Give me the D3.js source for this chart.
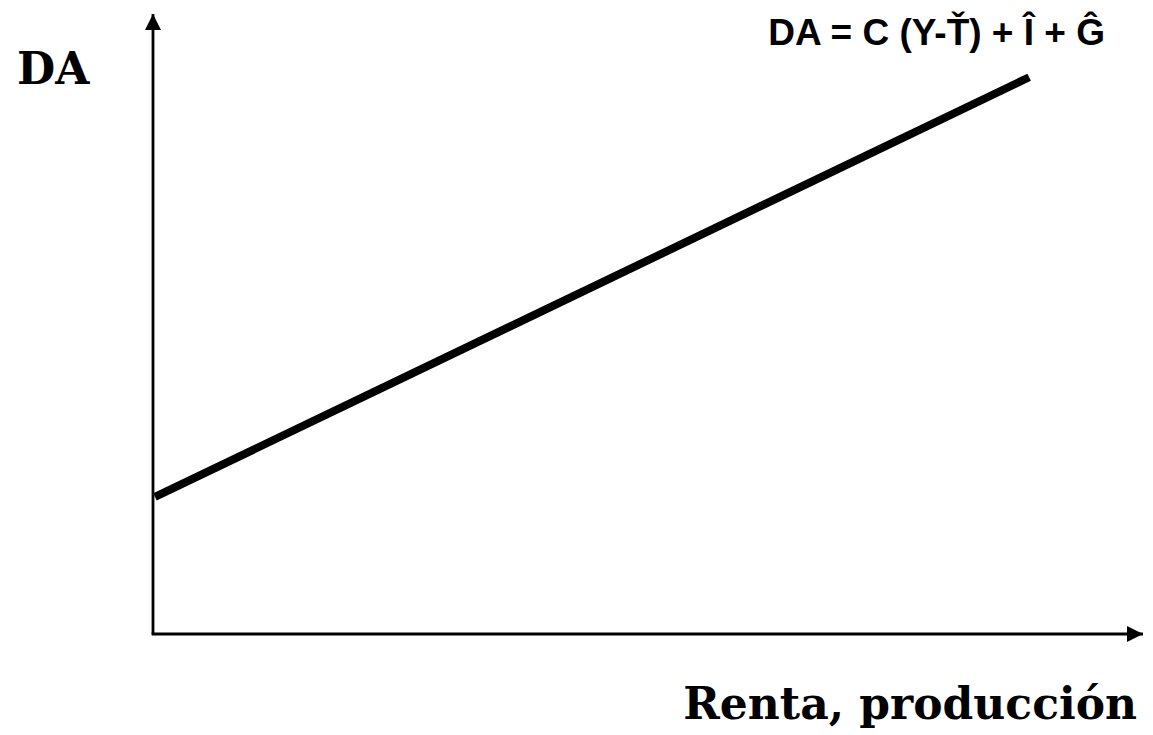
<!DOCTYPE html>
<html>
<head>
<meta charset="utf-8">
<script src="https://cdn.jsdelivr.net/npm/d3@7"></script>
<style>
  body { margin: 0; background: #fff; }
</style>
</head>
<body>
<script>
// Aggregate demand line (abstract units, axes run 0..10)
const lineX = [0.02, 8.85];
const lineY = [2.21, 8.98];
const equationLabel = 'DA = C (Y-Ť) + Î + Ĝ';
const yLabel = 'DA';
const xLabel = 'Renta, producción';

const width = 1153, height = 735;
const origin = { x: 153, y: 634 };

const svg = d3.select('body').append('svg')
    .attr('width', width)
    .attr('height', height);

const x = d3.scaleLinear().domain([0, 10]).range([origin.x, 1143]);
const y = d3.scaleLinear().domain([0, 10]).range([origin.y, 14]);

// arrow heads
const defs = svg.append('defs');
defs.append('marker')
    .attr('id', 'arrow')
    .attr('viewBox', '0 0 16 16')
    .attr('refX', 16)
    .attr('refY', 8)
    .attr('markerWidth', 16)
    .attr('markerHeight', 16)
    .attr('markerUnits', 'userSpaceOnUse')
    .attr('orient', 'auto')
    .append('path')
    .attr('d', 'M0,0 L16,8 L0,16 Z')
    .attr('fill', '#000');

// y axis
svg.append('line')
    .attr('x1', x(0)).attr('y1', y(0))
    .attr('x2', x(0)).attr('y2', y(10))
    .attr('stroke', '#000')
    .attr('stroke-width', 2.8)
    .attr('marker-end', 'url(#arrow)');

// x axis
svg.append('line')
    .attr('x1', x(0) - 1.4).attr('y1', y(0))
    .attr('x2', x(10)).attr('y2', y(0))
    .attr('stroke', '#000')
    .attr('stroke-width', 2.8)
    .attr('marker-end', 'url(#arrow)');

// DA line
const data = lineX.map((d, i) => ({ x: d, y: lineY[i] }));
svg.append('path')
    .datum(data)
    .attr('d', d3.line().x(d => x(d.x)).y(d => y(d.y)))
    .attr('fill', 'none')
    .attr('stroke', '#000')
    .attr('stroke-width', 8);

// labels
svg.append('text')
    .attr('x', 1105)
    .attr('y', 45)
    .attr('text-anchor', 'end')
    .style('font-family', 'Liberation Sans, Arial, sans-serif')
    .style('font-weight', 'bold')
    .style('font-size', '37px')
    .text(equationLabel);

svg.append('text')
    .attr('x', 17)
    .attr('y', 84)
    .style('font-family', 'DejaVu Serif, serif')
    .style('font-weight', 'bold')
    .style('font-size', '44px')
    .text(yLabel);

svg.append('text')
    .attr('x', 1137)
    .attr('y', 719)
    .attr('text-anchor', 'end')
    .style('font-family', 'DejaVu Serif, serif')
    .style('font-weight', 'bold')
    .style('font-size', '44px')
    .text(xLabel);
</script>
</body>
</html>
